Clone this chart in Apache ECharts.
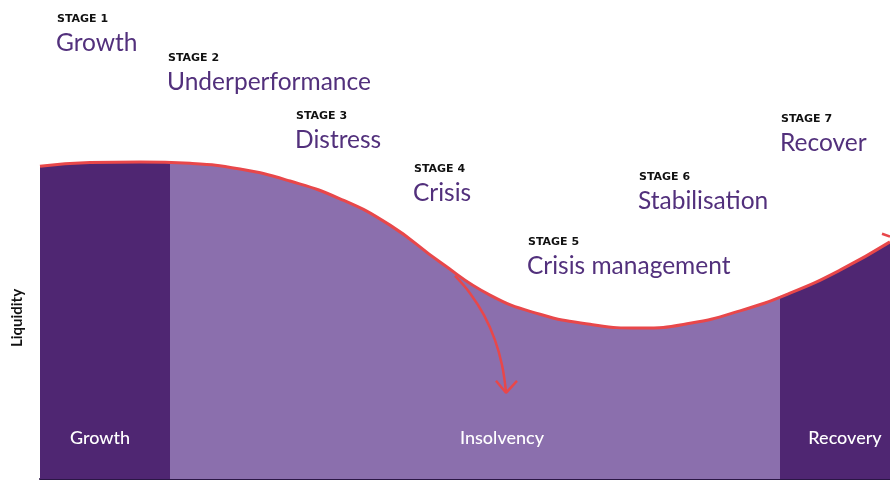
<!DOCTYPE html>
<html><head><meta charset="utf-8">
<script src="https://cdn.jsdelivr.net/npm/echarts@6/dist/echarts.min.js"></script>
<style>html,body{margin:0;padding:0;background:#fff}#c{width:890px;height:480px}</style>
</head><body><div id="c"></div>
<script>
// liquidity curve: x = position along timeline, y = liquidity index
const curveX = [0,50,100,150,200,250,300,350,400,450,500,550,600,650,700,750,800,850];
const curveY = [65.3,66.1,66.2,65.9,64.7,62.2,58.5,53.0,45.3,38.4,34.4,32.3,31.5,32.5,35.1,38.8,43.6,49.5];
// insolvency branch
const branchX = [415,430,444,455,462,466];
const branchY = [42.4,38.8,34.2,29.0,23.8,18.2];
const headX = [456,466,477];
const headY = [20.5,18.0,20.5];
const endBarbX = [842,850];
const endBarbY = [51.2,50.6];
// phase boundaries along x
const phaseBreaks = [130,740];
const phaseNames = ['Growth','Insolvency','Recovery'];
const stageTitles = ['STAGE 1','STAGE 2','STAGE 3','STAGE 4','STAGE 5','STAGE 6','STAGE 7'];
const stageNames = ['Growth','Underperformance','Distress','Crisis','Crisis management','Stabilisation','Recover'];
const yName = 'Liquidity';

const zip = (a,b)=>a.map((v,i)=>[v,b[i]]);
const chart = echarts.init(document.getElementById('c'));
const stagePos = [[57,19],[168,58],[296,116],[414,169],[528,242],[639,177],[781,119]];
const PURPLE = '#52307c', DARK = '#4f2672', LIGHT = '#8b6fad', RED = '#e8474a';
const graphics = [];
stageTitles.forEach((t,i)=>{
  graphics.push({type:'text', x:stagePos[i][0], y:stagePos[i][1], z:10,
    style:{text:t, font:'bold 11px "DejaVu Sans"', fill:'#111', textAlign:'left', textVerticalAlign:'middle', align:'left', verticalAlign:'middle'}});
  graphics.push({type:'text', x:stagePos[i][0]-1, y:stagePos[i][1]+24, z:10,
    style:{text:stageNames[i], font:'24.5px Lato', fill:PURPLE, textAlign:'left', textVerticalAlign:'middle', align:'left', verticalAlign:'middle'}});
});
const phasePos = [[100,438],[502,438],[845,438]];
phaseNames.forEach((t,i)=>{
  graphics.push({type:'text', x:phasePos[i][0], y:phasePos[i][1], z:10,
    style:{text:t, font:'500 18px Lato', fill:'#fff', textAlign:'center', textVerticalAlign:'middle', align:'center', verticalAlign:'middle'}});
});
graphics.push({type:'text', x:17, y:318, rotation:Math.PI/2, z:10,
  style:{text:yName, font:'bold 15px Lato', fill:'#111', textAlign:'center', textVerticalAlign:'middle', align:'center', verticalAlign:'middle'}});

chart.setOption({
  animation:false,
  grid:{left:40,right:0,top:0,bottom:1},
  xAxis:{type:'value',min:0,max:850,axisLine:{show:true,lineStyle:{color:'#2b1645',width:2}},axisTick:{show:false},axisLabel:{show:false},splitLine:{show:false}},
  yAxis:{type:'value',min:0,max:100,axisLine:{show:false},axisTick:{show:false},axisLabel:{show:false},splitLine:{show:false}},
  visualMap:{show:false,type:'piecewise',seriesIndex:0,dimension:0,
    pieces:[{lt:phaseBreaks[0],color:DARK},{gte:phaseBreaks[0],lt:phaseBreaks[1],color:LIGHT},{gte:phaseBreaks[1],color:DARK}]},
  series:[
    {type:'line',data:zip(curveX,curveY),smooth:0.5,symbol:'none',lineStyle:{color:RED,width:3},areaStyle:{opacity:1},z:2},
    {type:'line',data:zip(branchX,branchY),smooth:0.4,symbol:'none',lineStyle:{color:RED,width:2.5},z:3},
    {type:'line',data:zip(headX,headY),symbol:'none',lineStyle:{color:RED,width:2.5},z:3},
    {type:'line',data:zip(endBarbX,endBarbY),symbol:'none',lineStyle:{color:RED,width:2.5},z:3}
  ],
  graphic:graphics
});
</script></body></html>
